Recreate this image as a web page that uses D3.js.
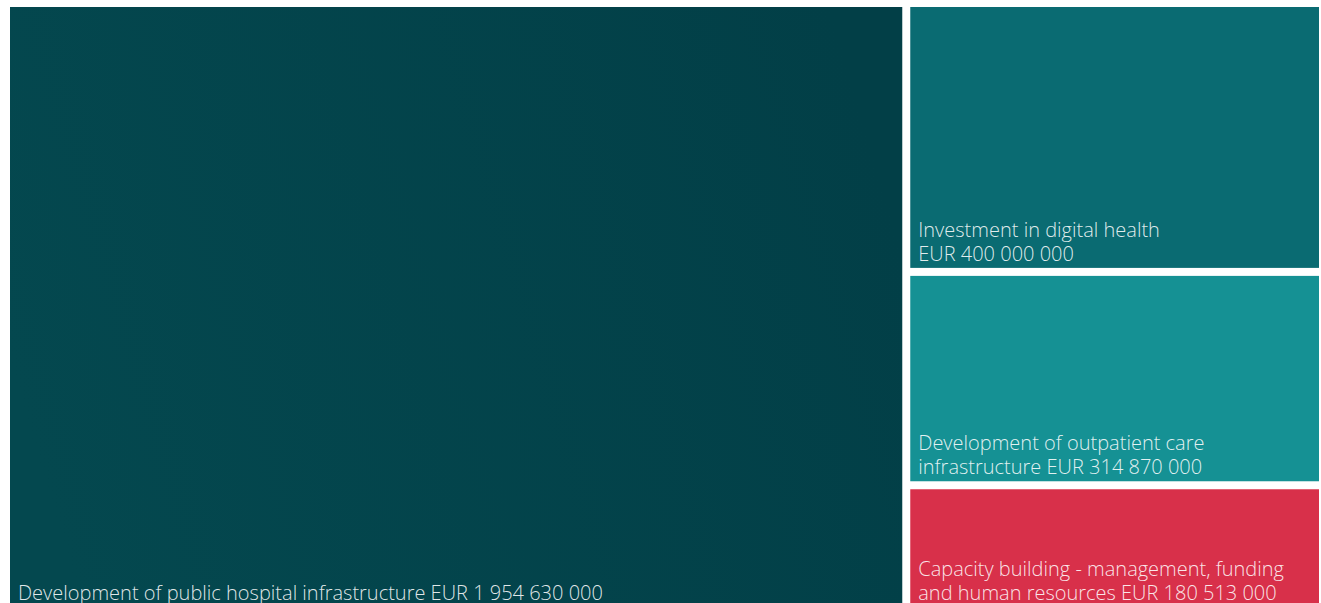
<!DOCTYPE html>
<html>
<head>
<meta charset="utf-8">
<script src="https://cdn.jsdelivr.net/npm/d3@7"></script>
<style>
  body { margin: 0; background: #fff; overflow: hidden; }
  svg { display: block; }
  .lbl { font-family: "Open Sans", sans-serif; font-weight: 300; font-size: 20px; fill: #fff; fill-opacity: 0.88; }
</style>
</head>
<body>
<script>
// chart data
const categories = [
    "Development of public hospital infrastructure",
    "Investment in digital health",
    "Development of outpatient care infrastructure",
    "Capacity building - management, funding and human resources"
];
const amounts = [1954630000, 400000000, 314870000, 180513000];
// label lines as shown in the picture
const labelLines = [
    ["Development of public hospital infrastructure EUR 1 954 630 000"],
    ["Investment in digital health", "EUR 400 000 000"],
    ["Development of outpatient care", "infrastructure EUR 314 870 000"],
    ["Capacity building - management, funding", "and human resources EUR 180 513 000"]
];
const colors = ["#03454d", "#0a6b72", "#159194", "#d8304a"];

document.addEventListener("DOMContentLoaded", () => {

    const width = 1321;
    const height = 603;
    const gap = 8;

    const svg = d3.select('body')
        .append('svg')
        .attr('width', width)
        .attr('height', height);

    const defs = svg.append('defs');
    const grad = defs.append('linearGradient')
        .attr('id', 'bigGrad')
        .attr('x1', '0%').attr('x2', '100%')
        .attr('y1', '60%').attr('y2', '40%');
    grad.append('stop').attr('offset', '0%').attr('stop-color', '#04484f');
    grad.append('stop').attr('offset', '100%').attr('stop-color', '#023f47');

    const items = categories.map((c, i) => ({ name: c, value: amounts[i], idx: i }));
    // big block on the left, the rest stacked in a column on the right
    const root = d3.hierarchy({
        children: [items[0], { children: items.slice(1) }]
    }).sum(d => d.value || 0);

    // dice at the top level, slice in the column, gaps kept out of the proportions
    function gapTile(node, x0, y0, x1, y1) {
        const n = node.children.length;
        if (node.depth === 0) {
            d3.treemapDice(node, x0, y0, x1 - gap * (n - 1), y1);
            node.children.forEach((c, i) => { c.x0 += i * gap; c.x1 += i * gap; });
        } else {
            d3.treemapSlice(node, x0, y0, x1, y1 - gap * (n - 1));
            node.children.forEach((c, i) => { c.y0 += i * gap; c.y1 += i * gap; });
        }
    }

    d3.treemap()
        .tile(gapTile)
        .size([1309, 600])
        .round(false)(root);

    const g = svg.append('g').attr('transform', 'translate(10,7)');

    const cell = g.selectAll('g')
        .data(root.leaves())
        .enter()
        .append('g')
        .attr('transform', d => `translate(${d.x0},${d.y0})`);

    cell.append('rect')
        .attr('width', d => d.x1 - d.x0)
        .attr('height', d => d.y1 - d.y0)
        .attr('fill', d => d.data.idx === 0 ? 'url(#bigGrad)' : colors[d.data.idx]);

    cell.each(function (d) {
        const lines = labelLines[d.data.idx];
        const h = d.y1 - d.y0;
        const t = d3.select(this).append('text')
            .attr('class', 'lbl')
            .attr('x', 8);
        lines.forEach((ln, j) => {
            t.append('tspan')
                .attr('x', 8)
                .attr('y', h - 7 - (lines.length - 1 - j) * 24)
                .text(ln);
        });
    });
});
</script>
</body>
</html>
